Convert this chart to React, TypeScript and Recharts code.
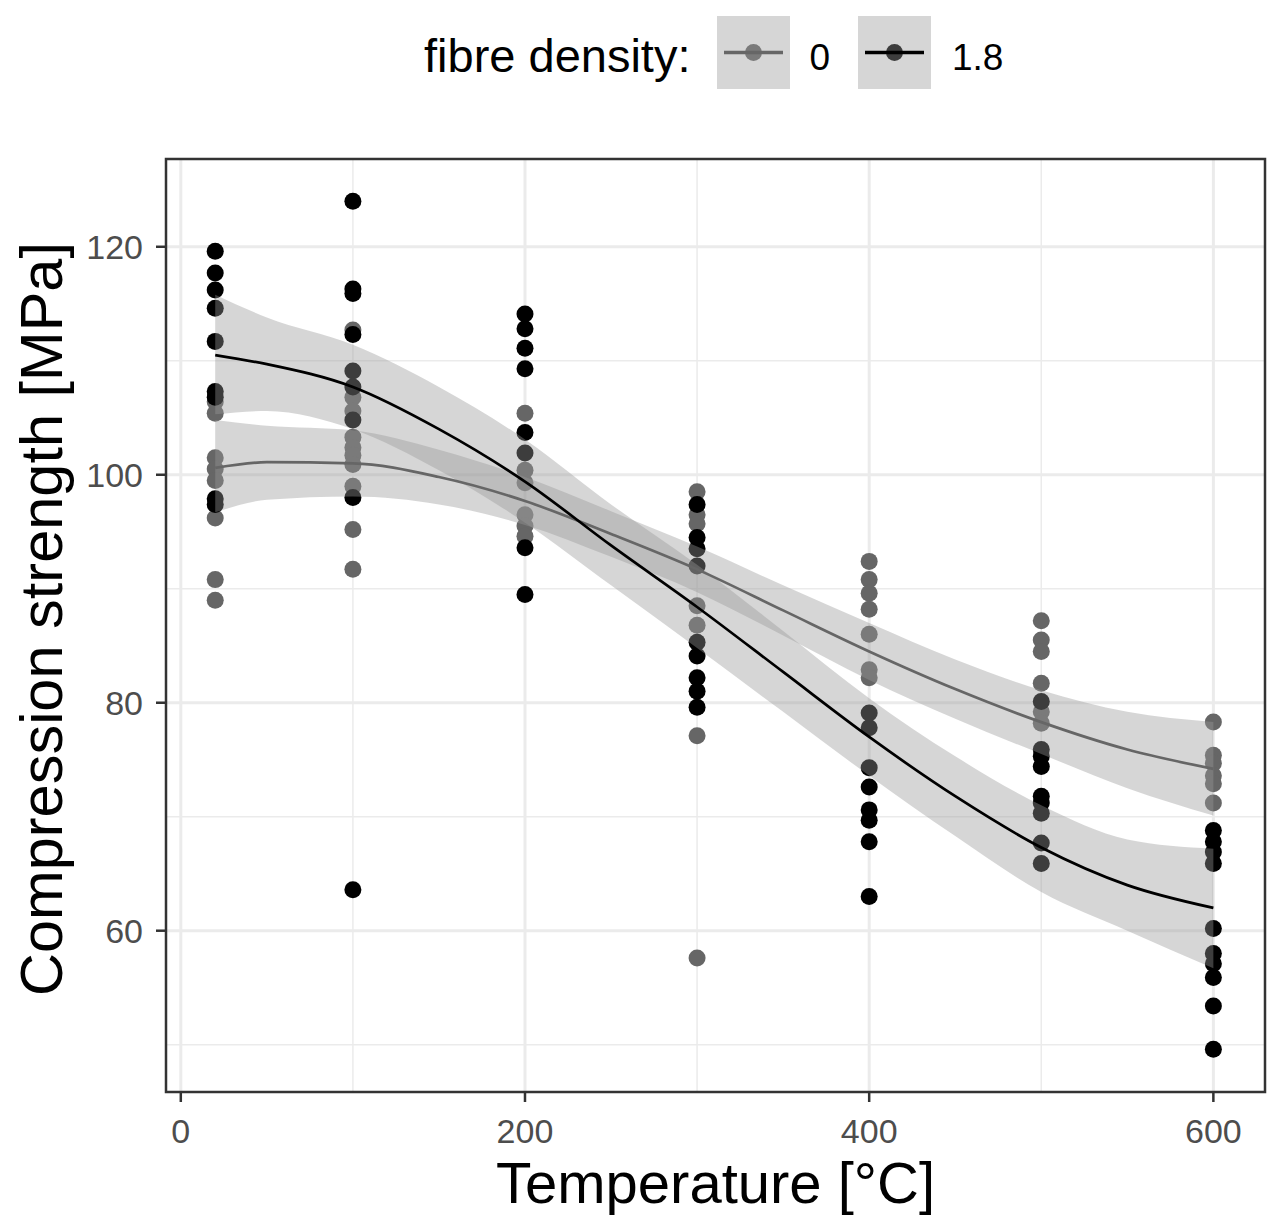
import React from "react";
import {
    ComposedChart, XAxis, YAxis, Scatter, Area, Line, ReferenceLine, ReferenceArea,
} from "recharts";

// temperatures where the specimens were tested
const temps = [20, 100, 200, 300, 400, 500, 600];

// measured compression strength, fibre density 0 (one list per temperature)
const strength0 = [
    [106.4, 105.4, 101.5, 100.5, 99.5, 96.2, 90.8, 89.0],
    [112.7, 106.8, 105.6, 103.3, 102.4, 101.7, 100.9, 99.0, 95.2, 91.7],
    [105.4, 100.4, 99.3, 96.5, 95.5, 94.6],
    [98.5, 96.5, 95.7, 88.5, 86.8, 77.1, 57.6],
    [92.4, 90.8, 89.6, 88.2, 86.0, 82.9, 82.2],
    [87.2, 85.5, 84.5, 81.7, 79.2, 78.2],
    [78.3, 75.4, 74.7, 73.6, 72.9, 71.2],
];

// measured compression strength, fibre density 1.8
const strength18 = [
    [119.6, 117.7, 116.2, 114.6, 111.7, 107.3, 106.8, 97.9, 97.4],
    [124.0, 116.3, 115.9, 112.3, 109.1, 107.7, 104.8, 98.0, 63.6],
    [114.1, 112.8, 111.1, 109.3, 103.7, 101.9, 93.6, 89.5],
    [97.4, 94.5, 93.5, 92.0, 85.3, 84.1, 82.2, 81.0, 79.6],
    [79.1, 77.8, 74.3, 72.6, 70.6, 69.7, 67.8, 63.0],
    [80.1, 75.9, 75.3, 74.4, 71.8, 71.2, 70.3, 67.7, 65.9],
    [68.8, 67.8, 66.9, 65.9, 60.2, 58.0, 57.1, 55.9, 53.4, 49.6],
];

// loess fits with confidence band
const smoothX = [20, 50, 100, 150, 200, 250, 300, 350, 400, 450, 500, 550, 600];
const fit0 = [100.6, 101.1, 101.0, 99.8, 97.7, 94.8, 91.7, 88.1, 84.5, 81.2, 78.3, 75.9, 74.2];
const low0 = [96.7, 97.8, 98.1, 97.4, 95.6, 92.8, 89.7, 85.9, 82.0, 78.6, 75.5, 72.5, 70.1];
const high0 = [104.8, 104.3, 103.9, 102.2, 99.8, 96.8, 93.7, 90.3, 87.0, 83.8, 81.1, 79.2, 78.3];
const fit18 = [110.5, 109.7, 107.7, 104.0, 99.4, 93.8, 88.4, 82.7, 77.0, 71.8, 67.3, 64.0, 62.0];
const low18 = [105.3, 105.6, 104.0, 100.4, 95.8, 90.3, 84.8, 79.2, 73.6, 68.3, 63.4, 60.0, 56.7];
const high18 = [115.8, 113.8, 111.4, 107.7, 103.1, 97.4, 92.1, 86.3, 80.4, 75.3, 71.0, 68.0, 67.2];

const xTicks = [0, 200, 400, 600];
const xMinor = [100, 300, 500];
const yTicks = [60, 80, 100, 120];
const yMinor = [50, 70, 90, 110];

const legendItems = [
    { label: "0", color: "#666666" },
    { label: "1.8", color: "#000000" },
];

const FONT = 'Arial, "Liberation Sans", Helvetica, sans-serif';
const X_DOMAIN: [number, number] = [-8.6, 630];
const Y_DOMAIN: [number, number] = [45.85, 127.7];
const GRID = "#EBEBEB";

function toPoints(groups: number[][]) {
    return groups.flatMap((vals, i) => vals.map((y) => ({ x: temps[i], y })));
}

const points0 = toPoints(strength0);
const points18 = toPoints(strength18);

const smoothData = smoothX.map((x, i) => ({
    x,
    fit0: fit0[i],
    band0: [low0[i], high0[i]],
    fit18: fit18[i],
    band18: [low18[i], high18[i]],
}));

const dot = (color: string) => (props: any) => (
    <circle cx={props.cx} cy={props.cy} r={8.5} fill={color} />
);

const tickStyle = { fill: "#4D4D4D", fontSize: 34, fontFamily: FONT };

function LegendKey({ x, color }: { x: number; color: string }) {
    return (
        <g>
            <rect x={x} y={16} width={73} height={73} fill="#ffffff" />
            <circle cx={x + 36.5} cy={52.5} r={8.5} fill={color} />
            <rect x={x} y={16} width={73} height={73} fill="#999999" fillOpacity={0.4} />
            <line x1={x + 7} x2={x + 66} y1={52.5} y2={52.5} stroke={color} strokeWidth={3.3} />
        </g>
    );
}

export default function App() {
    return (
        <div style={{ position: "absolute", left: 0, top: 0, width: 1281, height: 1232, background: "#fff" }}>
            <ComposedChart
                width={1281}
                height={1232}
                data={smoothData}
                margin={{ top: 159, right: 16, bottom: 0, left: 0 }}
            >
                <XAxis
                    type="number"
                    dataKey="x"
                    domain={X_DOMAIN}
                    ticks={xTicks}
                    allowDataOverflow
                    height={140}
                    tickSize={10}
                    tickMargin={17}
                    axisLine={false}
                    tickLine={{ stroke: "#333333", strokeWidth: 2.5 }}
                    tick={tickStyle}
                />
                <YAxis
                    type="number"
                    dataKey="y"
                    domain={Y_DOMAIN}
                    ticks={yTicks}
                    allowDataOverflow
                    width={166}
                    tickSize={10}
                    tickMargin={13}
                    axisLine={false}
                    tickLine={{ stroke: "#333333", strokeWidth: 2.5 }}
                    tick={tickStyle}
                />
                {yMinor.map((v) => (
                    <ReferenceLine key={"ym" + v} y={v} stroke={GRID} strokeWidth={1.5} zIndex={-100} />
                ))}
                {xMinor.map((v) => (
                    <ReferenceLine key={"xm" + v} x={v} stroke={GRID} strokeWidth={1.5} zIndex={-100} />
                ))}
                {yTicks.map((v) => (
                    <ReferenceLine key={"y" + v} y={v} stroke={GRID} strokeWidth={3} zIndex={-100} />
                ))}
                {xTicks.map((v) => (
                    <ReferenceLine key={"x" + v} x={v} stroke={GRID} strokeWidth={3} zIndex={-100} />
                ))}
                <Scatter data={points0} shape={dot("#666666")} isAnimationActive={false} zIndex={50} />
                <Scatter data={points18} shape={dot("#000000")} isAnimationActive={false} zIndex={60} />
                <Area
                    type="monotone"
                    dataKey="band0"
                    stroke="none"
                    fill="#999999"
                    fillOpacity={0.4}
                    isAnimationActive={false}
                    zIndex={100}
                />
                <Area
                    type="monotone"
                    dataKey="band18"
                    stroke="none"
                    fill="#999999"
                    fillOpacity={0.4}
                    isAnimationActive={false}
                    zIndex={110}
                />
                <Line
                    type="monotone"
                    dataKey="fit0"
                    stroke="#666666"
                    strokeWidth={2.7}
                    dot={false}
                    activeDot={false}
                    isAnimationActive={false}
                    zIndex={400}
                />
                <Line
                    type="monotone"
                    dataKey="fit18"
                    stroke="#000000"
                    strokeWidth={2.7}
                    dot={false}
                    activeDot={false}
                    isAnimationActive={false}
                    zIndex={410}
                />
                <ReferenceArea
                    x1={X_DOMAIN[0]}
                    x2={X_DOMAIN[1]}
                    y1={Y_DOMAIN[0]}
                    y2={Y_DOMAIN[1]}
                    fill="none"
                    fillOpacity={0}
                    stroke="#333333"
                    strokeWidth={2.5}
                    zIndex={500}
                />
            </ComposedChart>
            <svg
                width={1281}
                height={1232}
                style={{ position: "absolute", left: 0, top: 0, pointerEvents: "none" }}
                fontFamily={FONT}
            >
                <text x={424} y={72} fontSize={47} fill="#000">fibre density:</text>
                <LegendKey x={717} color={legendItems[0].color} />
                <text x={809.5} y={70} fontSize={37} fill="#000">{legendItems[0].label}</text>
                <LegendKey x={858} color={legendItems[1].color} />
                <text x={952} y={70} fontSize={37} fill="#000">{legendItems[1].label}</text>
                <text x={715.5} y={1203} fontSize={58} textAnchor="middle" fill="#000">
                    Temperature [°C]
                </text>
                <text
                    transform="translate(62,619) rotate(-90)"
                    fontSize={59.5}
                    textAnchor="middle"
                    fill="#000"
                >
                    Compression strength [MPa]
                </text>
            </svg>
        </div>
    );
}
